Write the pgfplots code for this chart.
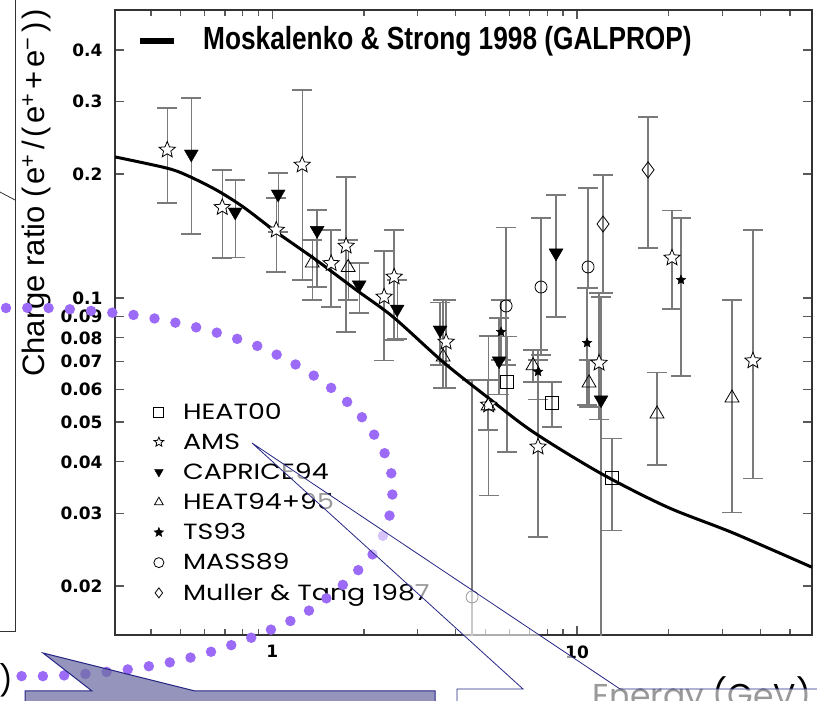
\documentclass[border=0pt]{standalone}
\usepackage{fontspec}
\usepackage{graphicx}
\usepackage{pgfplots}
\usepackage{pgfplotstable}
\pgfplotsset{compat=1.18}
\setmainfont{Liberation Sans}
\newfontfamily\tickfont{DejaVu Sans}
\newfontfamily\legfont{Poppins}[FakeStretch=1.22]
\newfontfamily\xlabfont{Poppins}
\definecolor{dotpurple}{HTML}{9B6BF7}
\definecolor{boxfill}{RGB}{112,112,165}
\definecolor{navy}{HTML}{262685}
\definecolor{barg}{HTML}{7A7A7A}

% five-pointed star mark
\pgfdeclareplotmark{fstar}{%
  \pgfpathmoveto{\pgfpointpolar{90}{\pgfplotmarksize}}%
  \pgfpathlineto{\pgfpointpolar{126}{0.45\pgfplotmarksize}}%
  \pgfpathlineto{\pgfpointpolar{162}{\pgfplotmarksize}}%
  \pgfpathlineto{\pgfpointpolar{198}{0.45\pgfplotmarksize}}%
  \pgfpathlineto{\pgfpointpolar{234}{\pgfplotmarksize}}%
  \pgfpathlineto{\pgfpointpolar{270}{0.45\pgfplotmarksize}}%
  \pgfpathlineto{\pgfpointpolar{306}{\pgfplotmarksize}}%
  \pgfpathlineto{\pgfpointpolar{342}{0.45\pgfplotmarksize}}%
  \pgfpathlineto{\pgfpointpolar{18}{\pgfplotmarksize}}%
  \pgfpathlineto{\pgfpointpolar{54}{0.45\pgfplotmarksize}}%
  \pgfpathclose
  \pgfusepathqfillstroke}

% x  y  lo  hi  (lo/hi = ends of the error bar)
\pgfplotstableread{
x y lo hi
5.896 0.0625 0.0423 0.0805
8.279 0.0557 0.0486 0.0625
13.02 0.0366 0.0273 0.0455
}\heatzero
\pgfplotstableread{
x y lo hi
0.4525 0.2287 0.1700 0.2893
0.6856 0.1659 0.1251 0.2046
1.031 0.1462 0.1156 0.1748
1.254 0.2103 0.1106 0.3197
1.561 0.1213 0.0951 0.1462
1.748 0.1337 0.0827 0.1966
2.329 0.1006 0.0704 0.1300
2.512 0.1125 0.0791 0.1462
3.720 0.0782 0.0605 0.0989
5.13 0.0550 0.0332 0.0809
7.450 0.0435 0.0263 0.0707
11.81 0.0695 0.0506 0.1028
20.49 0.1251 0.0940 0.1631
37.76 0.0704 0.0364 0.1462
}\ams
\pgfplotstableread{
x y lo hi
0.5427 0.2236 0.1430 0.3058
0.7561 0.1617 0.1254 0.1934
1.046 0.1788 0.1446 0.2011
1.404 0.1459 0.1063 0.1635
1.929 0.1076 0.0920 0.1216
2.570 0.0940 0.0795 0.1106
3.555 0.0836 0.0688 0.0973
5.551 0.0704 0.0582 0.0894
8.533 0.1286 0.0899 0.1778
11.99 0.0566 0.0100 0.1006
}\caprice
\pgfplotstableread{
x y lo hi
1.353 0.1216 0.0989 0.1383
1.775 0.1186 0.0989 0.1383
3.637 0.0719 0.0605 0.0989
5.108 0.0547 0.0478 0.0632
7.174 0.0685 0.0625 0.0748
10.95 0.0622 0.0544 0.0707
18.30 0.0523 0.0393 0.0658
32.24 0.0572 0.0302 0.0989
}\heatnf
\pgfplotstableread{
x y lo hi
5.635 0.0827 0.0707 0.0989
7.450 0.0662 0.0566 0.0748
10.79 0.0778 0.0550 0.1058
21.93 0.1106 0.0647 0.1564
}\tsnt
\pgfplotstableread{
x y lo hi
4.526 0.0188 0.0100 0.0632
5.852 0.0956 0.0688 0.1483
7.621 0.1063 0.0727 0.1564
10.87 0.1189 0.1058 0.1849
}\mass
\pgfplotstableread{
x y lo hi
12.17 0.1512 0.1028 0.1988
17.10 0.2046 0.1323 0.2750
}\muller

\pgfplotsset{
  errb/.style={error bars/.cd, y dir=both, y explicit,
    error bar style={barg, line width=1.3pt},
    error mark options={barg, line width=1.3pt, mark size=10pt, rotate=90}},
  table/tabopts/.style={x=x, y=y,
    y error plus expr=\thisrow{hi}-\thisrow{y},
    y error minus expr=\thisrow{y}-\thisrow{lo}},
}

\begin{document}
\begin{tikzpicture}
\useasboundingbox (0pt,0pt) rectangle (817pt,701pt);
\begin{axis}[
  at={(115pt,66pt)}, anchor=south west,
  scale only axis, width=697pt, height=625pt,
  xmode=log, ymode=log,
  xmin=0.305, xmax=59, ymin=0.0152, ymax=0.5,
  xtick={1,10}, xticklabels={1,10},
  minor xtick={0.4,0.5,0.6,0.7,0.8,0.9,2,3,4,5,6,7,8,9,20,30,40,50},
  ytick={0.02,0.03,0.04,0.05,0.06,0.07,0.08,0.09,0.1,0.2,0.3,0.4},
  yticklabels={0.02,0.03,0.04,0.05,0.06,0.07,0.08,0.09,0.1,0.2,0.3,0.4},
  yminorticks=false,
  tick label style={font=\tickfont\bfseries\fontsize{17}{19}\selectfont, text=black},
  yticklabel style={xshift=-9pt},
  xticklabel style={yshift=-7pt},
  axis line style={black!80, line width=1.4pt},
  major tick length=9pt, minor tick length=6pt,
  every tick/.style={black!65, line width=1.2pt},
  legend style={at={(0.038,0.374)}, anchor=north west, draw=none, fill=none,
    font=\legfont\fontsize{22}{24}\selectfont, row sep=8.5pt,
    inner sep=0pt, cells={anchor=west}},
  legend image code/.code={%
    \path (0pt,0pt) (39pt,0pt);
    \draw[mark repeat=2, mark phase=2, #1] plot coordinates {(0pt,0pt) (17pt,0pt) (34pt,0pt)};},
  legend image post style={mark size=5pt},
]
\addplot[only marks, mark=square, mark size=6.5pt, mark options={fill=white, draw=black, line width=0.8pt}, errb]
  table[tabopts] {\heatzero};
\addlegendentry{HEAT00}
\addplot[only marks, mark=fstar, mark size=8.5pt, mark options={fill=white, draw=black, line width=0.8pt}, errb]
  table[tabopts] {\ams};
\addlegendentry{AMS}
\addplot[only marks, mark=triangle*, mark size=8pt, mark options={fill=black, draw=black, rotate=180}, errb]
  table[tabopts] {\caprice};
\addlegendentry{CAPRICE94}
\addplot[only marks, mark=triangle, mark size=8pt, mark options={fill=white, draw=black, line width=0.8pt}, errb]
  table[tabopts] {\heatnf};
\addlegendentry{HEAT94+95}
\addplot[only marks, mark=fstar, mark size=5pt, mark options={fill=black, draw=black}, errb]
  table[tabopts] {\tsnt};
\addlegendentry{TS93}
\addplot[only marks, mark=o, mark size=6pt, mark options={fill=white, draw=black, line width=0.8pt}, errb]
  table[tabopts] {\mass};
\addlegendentry{MASS89}
\addplot[only marks, mark=diamond, mark size=8pt, mark options={fill=white, draw=black, line width=0.8pt}, errb]
  table[tabopts] {\muller};
\addlegendentry{Muller \& Tang 1987}
% GALPROP prediction
\addplot[black, line width=3pt, smooth, forget plot] coordinates {
  (0.3056,0.2199) (0.4492,0.2068) (0.5224,0.1988) (0.6553,0.1829)
  (0.8034,0.1663) (1.031,0.1446) (1.394,0.1236) (1.886,0.1046)
  (2.493,0.0899) (3.637,0.0699) (5.07,0.0575) (7.174,0.0473)
  (11.90,0.0376) (19.73,0.0311) (32.47,0.0269) (58.96,0.0222)
};
\end{axis}

% slide decorations, in pixel coordinates (y down)
\begin{scope}[shift={(0pt,701pt)}, x=1pt, y=-1pt]
  \draw[black!80, line width=1pt] (15,-5) -- (15,632) -- (-5,632);
  \draw[black!80, line width=0.8pt] (-2,191) -- (15,200);
  \draw[black, line width=6pt] (140,41) -- (174,41);
  \node[anchor=base west, inner sep=0pt] at (203,50)
    {\scalebox{0.82}[1]{\bfseries\fontsize{32}{36}\selectfont Moskalenko \& Strong 1998 (GALPROP)}};
  \node[rotate=90, anchor=base west, inner sep=0pt] at (44,377)
    {\fontsize{31}{36}\selectfont Charge ratio (\kern3pt e\textsuperscript{+}\kern4pt/\kern4pt(\kern3pt e\textsuperscript{+}\kern4pt+\kern4pt e\textsuperscript{−}\kern4pt)\kern3pt)};
  \draw[dotpurple, line width=10.5pt, line cap=round, dash pattern=on 0pt off 21.3pt]
    plot[smooth] coordinates {(6,308) (48,308) (92,311) (134,315) (177,323) (218,333)
      (260,347) (300,367) (335,391) (365,421) (387,458) (392,479) (392,500)
      (388,522) (380,542) (368,560) (337,590) (302,615) (263,633) (223,648)
      (181,660) (138,668) (96,673) (52,676) (8,676)};
  \node[anchor=base west, inner sep=0pt] at (592,708)
    {\xlabfont\fontsize{33}{36}\selectfont Energy (GeV)};
  \node[anchor=base east, inner sep=0pt] at (13,692)
    {\xlabfont\fontsize{30}{34}\selectfont V)};
  \filldraw[fill=boxfill, fill opacity=0.75, draw=navy, line width=1pt]
    (25,712) -- (25,691) -- (92,691) -- (43,653) -- (195,691) -- (435,691) -- (435,712) -- cycle;
  \filldraw[fill=white, fill opacity=0.6, draw=navy, line width=0.8pt]
    (457,712) -- (457,689) -- (523,689) -- (252,443) -- (620,689) -- (830,689) -- (830,712) -- cycle;
\end{scope}
\end{tikzpicture}
\end{document}
